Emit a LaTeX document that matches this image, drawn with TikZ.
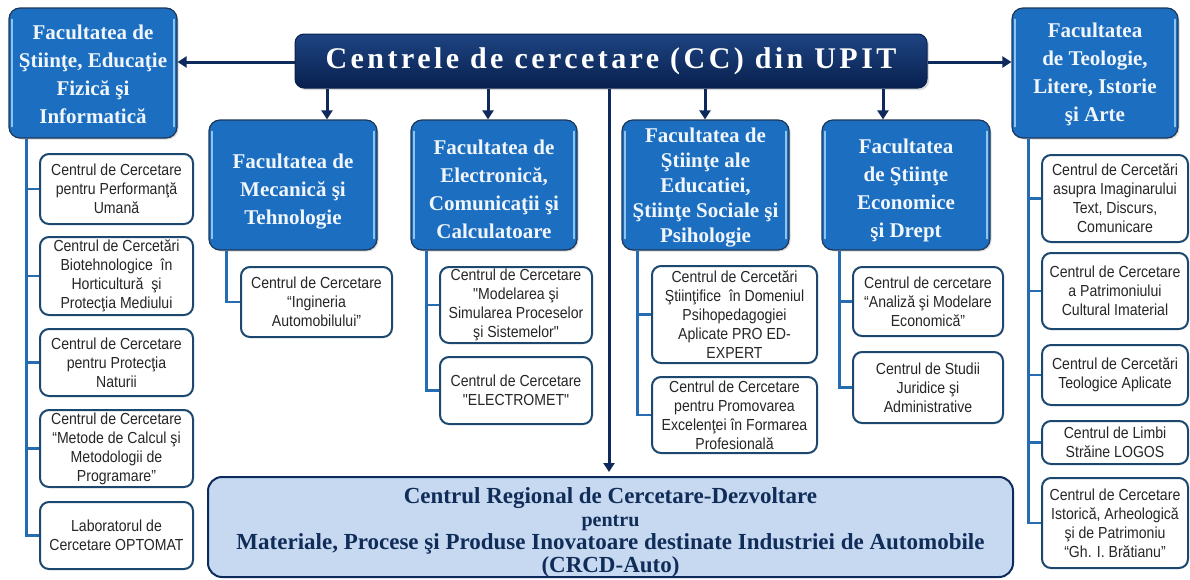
\documentclass[tikz,border=0pt]{standalone}
\usepackage{fontspec}
\setmainfont{Liberation Serif}
\newfontfamily\sansnarrow[FakeStretch=0.88]{Liberation Sans}
\newfontfamily\titleserif[LetterSpace=11.5]{Liberation Serif}
\usetikzlibrary{arrows.meta,shadows}
\definecolor{facblue}{RGB}{28,110,192}
\definecolor{facborder}{RGB}{30,55,88}
\definecolor{factext}{RGB}{240,246,252}
\definecolor{hlblue}{RGB}{140,195,240}
\definecolor{navy}{RGB}{14,42,92}
\definecolor{navytop}{RGB}{30,68,130}
\definecolor{navybot}{RGB}{8,32,78}
\definecolor{linkblue}{RGB}{38,108,178}
\definecolor{ccborder}{RGB}{28,72,112}
\definecolor{bottomfill}{RGB}{198,217,240}
\definecolor{bottomtext}{RGB}{16,44,88}
\newcommand\facfont{\fontsize{21}{28}\selectfont\bfseries}
\newcommand\ccfont{\sansnarrow\fontsize{16}{19}\selectfont}
\tikzset{
  fac/.style={rectangle, rounded corners=11pt, draw=facborder, line width=1.2pt,
    fill=facblue, inner sep=0pt,
    drop shadow={opacity=0.3,shadow xshift=1.5pt,shadow yshift=-1.5pt}},
  factxt/.style={text=factext, align=center, inner sep=0pt, font=\facfont},
  ccbox/.style={rectangle, rounded corners=9pt, draw=ccborder, line width=2pt,
    fill=white, align=center, inner sep=0pt, font=\ccfont, text=black!85},
  titlebox/.style={rectangle, rounded corners=9pt, draw=navybot, line width=1pt,
    top color=navytop, bottom color=navybot, text=white, inner sep=0pt,
    drop shadow={opacity=0.3,shadow xshift=2pt,shadow yshift=-2pt}},
  bigbox/.style={rectangle, rounded corners=14pt, draw=navy, line width=2pt,
    fill=bottomfill, inner sep=0pt},
  bigtext/.style={text=bottomtext, align=center, inner sep=0pt,
    font=\fontsize{23}{23}\selectfont\bfseries},
  trunk/.style={draw=linkblue, line width=2.6pt},
  arr/.style={draw=navy, line width=3pt, -{Triangle[length=9pt,width=11pt]}},
  hl/.style={draw=hlblue, line width=1.5pt, line cap=round},
}
\begin{document}
\begin{tikzpicture}[x=1pt,y=-1pt]
\useasboundingbox (0,0) rectangle (1190,579);

% title
\node[titlebox, minimum width=632pt, minimum height=54pt] (title) at (611,61)
  {\titleserif\fontsize{30}{32}\selectfont\bfseries Centrele de cercetare (CC) din UPIT};

% faculties
\node[fac, minimum width=168pt, minimum height=130pt] (fL) at (93,73) {};
\node[fac, minimum width=166pt, minimum height=130pt] (fR) at (1095,73) {};
\node[fac, minimum width=168pt, minimum height=130pt] (fM) at (293,185) {};
\node[fac, minimum width=166pt, minimum height=130pt] (fE) at (494,185) {};
\node[fac, minimum width=167pt, minimum height=130pt] (fD) at (705.5,185) {};
\node[fac, minimum width=168pt, minimum height=130pt] (fC) at (906,185) {};
\foreach \f in {fL,fR,fM,fE,fD,fC}{
  \draw[hl] ([xshift=3.5pt,yshift=-12pt]\f.north west) -- ([xshift=3.5pt,yshift=12pt]\f.south west);
  \draw[hl] ([xshift=-3.5pt,yshift=-12pt]\f.north east) -- ([xshift=-3.5pt,yshift=12pt]\f.south east);
}
\node[factxt] (fLt) at ([yshift=-1.5pt]fL.center)
  {Facultatea de\\Ştiinţe, Educaţie\\Fizică şi\\Informatică};
\node[factxt] (fRt) at ([yshift=-1.5pt]fR.center)
  {Facultatea\\de Teologie,\\Litere, Istorie\\şi Arte};
\node[factxt] (fMt) at ([yshift=-7pt]fM.center)
  {Facultatea de\\Mecanică şi\\Tehnologie};
\node[factxt] (fEt) at ([yshift=-4pt]fE.center)
  {Facultatea de\\Electronică,\\Comunicaţii şi\\Calculatoare};
\node[factxt, font=\fontsize{21}{25}\selectfont\bfseries] (fDt) at ([yshift=-2.5pt]fD.center)
  {Facultatea de\\Ştiinţe ale\\Educatiei,\\Ştiinţe Sociale şi\\Psihologie};
\node[factxt] (fCt) at ([yshift=-5.5pt]fC.center)
  {Facultatea\\de Ştiinţe\\Economice\\şi Drept};

% left column
\node[ccbox, minimum width=153pt, minimum height=70pt] (l1) at (116.5,189)
  {Centrul de Cercetare\\pentru Performanţă\\Umană};
\node[ccbox, minimum width=153pt, minimum height=78pt] (l2) at (116.5,276)
  {Centrul de Cercetări\\Biotehnologice\ \ în\\Horticultură\ \ şi\\Protecţia Mediului};
\node[ccbox, minimum width=153pt, minimum height=67pt] (l3) at (116.5,362.5)
  {Centrul de Cercetare\\pentru Protecţia\\Naturii};
\node[ccbox, minimum width=153pt, minimum height=77pt] (l4) at (116.5,448.5)
  {Centrul de Cercetare\\“Metode de Calcul şi\\Metodologii de\\Programare”};
\node[ccbox, minimum width=153pt, minimum height=67pt] (l5) at (116.5,535.5)
  {Laboratorul de\\Cercetare OPTOMAT};

% mecanica
\node[ccbox, minimum width=151pt, minimum height=70pt] (m1) at (316.5,302)
  {Centrul de Cercetare\\“Ingineria\\Automobilului”};

% electronica
\node[ccbox, minimum width=152pt, minimum height=76pt] (e1) at (516,305)
  {Centrul de Cercetare\\"Modelarea şi\\Simularea Proceselor\\şi Sistemelor"};
\node[ccbox, minimum width=152pt, minimum height=67pt] (e2) at (516,390.5)
  {Centrul de Cercetare\\"ELECTROMET"};

% educatiei
\node[ccbox, minimum width=165pt, minimum height=97pt] (d1) at (734.5,314.5)
  {Centrul de Cercetări\\Ştiinţifice\ \ în Domeniul\\Psihopedagogiei\\Aplicate PRO ED-\\EXPERT};
\node[ccbox, minimum width=165pt, minimum height=76pt] (d2) at (734.5,415)
  {Centrul de Cercetare\\pentru Promovarea\\Excelenţei în Formarea\\Profesională};

% economice
\node[ccbox, minimum width=150pt, minimum height=69pt] (c1) at (928,301.5)
  {Centrul de cercetare\\“Analiză şi Modelare\\Economică”};
\node[ccbox, minimum width=150pt, minimum height=71pt] (c2) at (928,387.5)
  {Centrul de Studii\\Juridice şi\\Administrative};

% right column
\node[ccbox, minimum width=146pt, minimum height=87pt] (r1) at (1115,198.5)
  {Centrul de Cercetări\\asupra Imaginarului\\Text, Discurs,\\Comunicare};
\node[ccbox, minimum width=146pt, minimum height=76pt] (r2) at (1115,291)
  {Centrul de Cercetare\\a Patrimoniului\\Cultural Imaterial};
\node[ccbox, minimum width=146pt, minimum height=60pt] (r3) at (1115,375)
  {Centrul de Cercetări\\Teologice Aplicate};
\node[ccbox, minimum width=146pt, minimum height=43pt] (r4) at (1115,442.5)
  {Centrul de Limbi\\Străine LOGOS};
\node[ccbox, minimum width=146pt, minimum height=90pt] (r5) at (1115,523)
  {Centrul de Cercetare\\Istorică, Arheologică\\şi de Patrimoniu\\“Gh. I. Brătianu”};

% bottom box
\node[bigbox, minimum width=805pt, minimum height=100pt] (crcd) at (610.5,527) {};
\node[bigtext] (crcdt) at ([yshift=-5pt]crcd.center)
  {Centrul Regional de Cercetare-Dezvoltare\\
   {\fontsize{20}{21}\selectfont pentru}\\
   Materiale, Procese şi Produse Inovatoare destinate Industriei de Automobile\\
   (CRCD-Auto)};

% trunks
\coordinate (tL) at ([xshift=18pt]fL.south west);
\coordinate (tR) at ([xshift=17pt]fR.south west);
\coordinate (tM) at ([xshift=18pt]fM.south west);
\coordinate (tE) at ([xshift=16pt]fE.south west);
\coordinate (tD) at ([xshift=16pt]fD.south west);
\coordinate (tC) at ([xshift=18pt]fC.south west);
\draw[trunk] (tL) |- (l5.west);
\foreach \n in {l1,l2,l3,l4} \draw[trunk] (tL |- \n.west) -- (\n.west);
\draw[trunk] (tR) |- (r5.west);
\foreach \n in {r1,r2,r3,r4} \draw[trunk] (tR |- \n.west) -- (\n.west);
\draw[trunk] (tM) |- (m1.west);
\draw[trunk] (tE) |- (e2.west);
\draw[trunk] (tE |- e1.west) -- (e1.west);
\draw[trunk] (tD) |- (d2.west);
\draw[trunk] (tD |- d1.west) -- (d1.west);
\draw[trunk] (tC) |- (c2.west);
\draw[trunk] (tC |- c1.west) -- (c1.west);

% arrows
\coordinate (xM) at (327,0);
\coordinate (xE) at (488,0);
\coordinate (xD) at (705,0);
\coordinate (xC) at (883,0);
\coordinate (xB) at (609,0);
\draw[arr] ([yshift=-1pt]title.west) -- ([yshift=-1pt]title.west -| fL.east);
\draw[arr] ([yshift=-1pt]title.east) -- ([yshift=-1pt]title.east -| fR.west);
\draw[arr] (title.south -| xM) -- (fM.north -| xM);
\draw[arr] (title.south -| xE) -- (fE.north -| xE);
\draw[arr] (title.south -| xD) -- (fD.north -| xD);
\draw[arr] (title.south -| xC) -- (fC.north -| xC);
\draw[arr] (title.south -| xB) -- ([yshift=4pt]crcd.north -| xB);
\end{tikzpicture}
\end{document}
